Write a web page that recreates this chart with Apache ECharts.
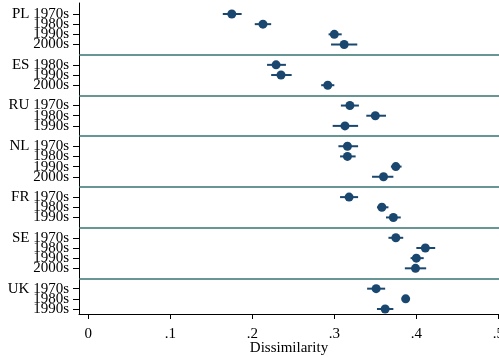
<!DOCTYPE html>
<html><head><meta charset="utf-8">
<script src="https://cdn.jsdelivr.net/npm/echarts@6/dist/echarts.min.js"></script>
<style>html,body{margin:0;padding:0;background:#fff}#c{width:499px;height:357px}</style>
</head><body><div id="c"></div>
<script>
const rowGroup = ['PL','PL','PL','PL','ES','ES','ES','RU','RU','RU','NL','NL','NL','NL','FR','FR','FR','SE','SE','SE','SE','UK','UK','UK'];
const rowDecade = ['1970s','1980s','1990s','2000s','1980s','1990s','2000s','1970s','1980s','1990s','1970s','1980s','1990s','2000s','1970s','1980s','1990s','1970s','1980s','1990s','2000s','1970s','1980s','1990s'];
const estimate = [0.175,0.213,0.300,0.312, 0.229,0.235,0.292, 0.319,0.350,0.313, 0.316,0.316,0.375,0.360, 0.318,0.358,0.372, 0.375,0.411,0.400,0.399, 0.351,0.387,0.362];
const ciLow  = [0.164,0.203,0.293,0.296, 0.218,0.223,0.284, 0.308,0.339,0.298, 0.305,0.307,0.369,0.346, 0.307,0.352,0.363, 0.366,0.400,0.393,0.386, 0.340,0.385,0.352];
const ciHigh = [0.187,0.223,0.309,0.328, 0.241,0.248,0.300, 0.330,0.363,0.329, 0.329,0.326,0.382,0.372, 0.329,0.366,0.381, 0.384,0.423,0.409,0.412, 0.362,0.389,0.372];
const xTicks = [0, 0.1, 0.2, 0.3, 0.4, 0.5];
const xTickLabels = ['0', '.1', '.2', '.3', '.4', '.5'];
const xTitle = 'Dissimilarity';

// build row positions with a gap slot between groups
const pos = [], labels = {}, seps = [];
let p = 0;
for (let i = 0; i < rowGroup.length; i++) {
  const first = i === 0 || rowGroup[i] !== rowGroup[i-1];
  if (first && i > 0) { seps.push(p); p++; }
  pos.push(p);
  labels[p] = first ? rowGroup[i] + ' ' + rowDecade[i] : rowDecade[i];
  p++;
}
const lastPos = p - 1;
// split labels across two stacked axes so that dense labels are not auto-hidden
const posA = pos.filter((_, i) => i % 2 === 0);
const posB = pos.filter((_, i) => i % 2 === 1);

const navy = '#1a476f';
const font = 'Liberation Serif';
const yBase = {
  type: 'value', inverse: true, min: -1.08, max: lastPos + 0.49, position: 'left', offset: 0,
  splitLine: {show: false}
};
const yLabel = (vals) => ({customValues: vals, margin: 10, color: '#000', fontFamily: font, fontSize: 15,
  hideOverlap: false, formatter: v => labels[Math.round(v)] ?? ''});

const chart = echarts.init(document.getElementById('c'), null, {renderer: 'canvas'});
chart.setOption({
  animation: false,
  backgroundColor: '#fff',
  grid: {left: 79, right: 0, top: 3, bottom: 43, containLabel: false, outerBoundsMode: 'none'},
  xAxis: {
    type: 'value', min: -0.0113, max: 0.5008,
    axisLine: {show: true, onZero: false, lineStyle: {color: '#000', width: 1}},
    axisTick: {show: true, length: 5, customValues: xTicks, lineStyle: {color: '#000'}},
    axisLabel: {customValues: xTicks, margin: 13, color: '#000', fontFamily: font, fontSize: 15,
      showMinLabel: true, showMaxLabel: true, hideOverlap: false,
      formatter: v => xTickLabels[xTicks.findIndex(t => Math.abs(t - v) < 1e-9)] ?? ''},
    splitLine: {show: false},
    name: xTitle, nameLocation: 'middle', nameGap: 27, nameMoveOverlap: false,
    nameTextStyle: {color: '#000', fontFamily: font, fontSize: 15}
  },
  yAxis: [
    Object.assign({}, yBase, {
      axisLine: {show: true, onZero: false, lineStyle: {color: '#000', width: 1}},
      axisTick: {show: true, length: 6, customValues: pos, lineStyle: {color: '#000'}},
      axisLabel: yLabel(posA)
    }),
    Object.assign({}, yBase, {
      axisLine: {show: false, onZero: false},
      axisTick: {show: false},
      axisLabel: yLabel(posB)
    })
  ],
  series: [
    {
      type: 'custom',
      silent: true,
      data: ciLow.map((lo, i) => [lo, ciHigh[i], pos[i]]),
      renderItem: (params, api) => {
        const a = api.coord([api.value(0), api.value(2)]);
        const b = api.coord([api.value(1), api.value(2)]);
        return {type: 'line', shape: {x1: a[0], y1: a[1], x2: b[0], y2: b[1]},
          style: {stroke: navy, lineWidth: 2}};
      },
      encode: {x: [0, 1], y: 2},
      z: 2
    },
    {
      type: 'scatter',
      silent: true,
      symbol: 'circle', symbolSize: 9,
      itemStyle: {color: navy, opacity: 1},
      data: estimate.map((e, i) => [e, pos[i]]),
      z: 3,
      markLine: {
        silent: true, symbol: 'none', label: {show: false},
        lineStyle: {color: '#357370', width: 1.5, type: 'solid'},
        data: seps.map(s => ({yAxis: s}))
      }
    }
  ]
});
</script></body></html>
